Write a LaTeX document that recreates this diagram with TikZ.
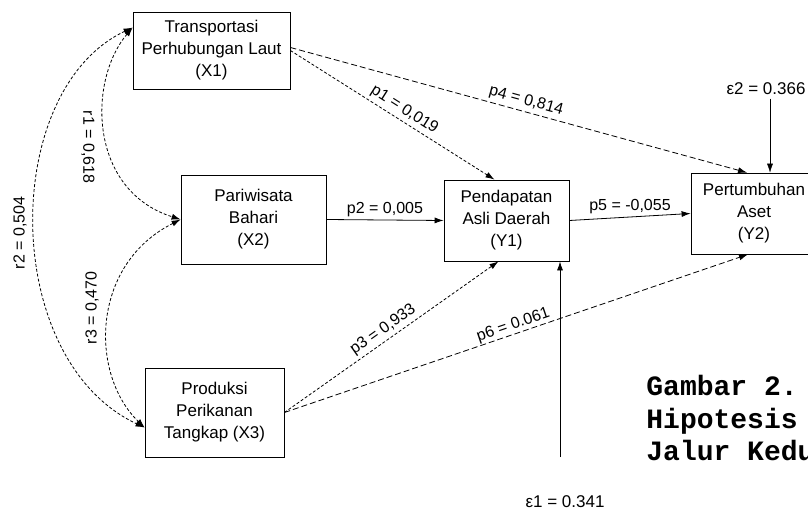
\documentclass[tikz,border=0pt]{standalone}
\usepackage{fontspec}
\setmainfont{Liberation Sans}
\newfontfamily\capfont{Liberation Mono}
\usetikzlibrary{arrows.meta,positioning}

\begin{document}
\begin{tikzpicture}[x=1pt,y=-1pt,>={Latex[length=9pt,width=6pt]},line width=0.8pt]
\tikzstyle{varbox}=[draw, rectangle, inner sep=0pt, align=center, font=\fontsize{17}{22}\selectfont]
\tikzstyle{coef}=[font=\fontsize{16}{18}\selectfont, inner sep=3pt]
\tikzstyle{fine}=[dash pattern=on 3pt off 2pt]
\tikzstyle{coarse}=[dash pattern=on 6pt off 3pt]
\tikzstyle{capline}=[anchor=base west, inner sep=0pt, font=\capfont\bfseries\fontsize{28}{32}\selectfont]
\useasboundingbox (0,0) rectangle (808,513);
\clip (0,0) rectangle (808,513);
% variables
\node [varbox, minimum width=157pt, minimum height=77pt] (X1) at (211.5,50.5) {Transportasi\\Perhubungan Laut\\(X1)};
\node [varbox, minimum width=145pt, minimum height=89pt] (X2) at (253.5,219.5) {Pariwisata\\Bahari\\(X2)};
\node [varbox, minimum width=139pt, minimum height=89pt] (X3) at (214.5,412.5) {Produksi\\Perikanan\\Tangkap (X3)};
\node [varbox, minimum width=125pt, minimum height=81pt] (Y1) at (506.5,220.5) {Pendapatan\\Asli Daerah\\(Y1)};
\node [varbox, minimum width=126pt, minimum height=81pt] (Y2) at (754,213.5) {Pertumbuhan\\Aset\\(Y2)};
% paths
\draw [->, fine] (X1.east) -- ([xshift=-12pt]Y1.north) node [coef, pos=0.53, above, sloped] {p1 = 0,019};
\draw [->] (X2.east) -- (Y1.west) node [coef, midway, above] {p2 = 0,005};
\draw [->, fine] (X3.east) -- ([xshift=-8pt]Y1.south) node [coef, pos=0.49, above, sloped] {p3 = 0,933};
\draw [->, coarse] ([yshift=3pt]X1.east) -- ([xshift=-7pt]Y2.north) node [coef, pos=0.51, above, sloped] {p4 = 0,814};
\draw [->] (Y1.east) -- (Y2.west) node [coef, midway, above] {p5 = -0,055};
\draw [->, coarse] (X3.east) -- ([xshift=-6pt]Y2.south) node [coef, pos=0.5, above, sloped, inner sep=1pt] {p6 = 0.061};
% correlations
\draw [<->, fine] ([yshift=-16pt]X1.north west) .. controls (88,80) and (88,190) .. (X2.west);
\draw [<->, fine] ([yshift=-16pt]X1.north west) .. controls (0,90) and (0,360) .. ([yshift=-15pt]X3.west);
\draw [<->, fine] (X2.west) .. controls (90,265) and (90,375) .. ([yshift=-15pt]X3.west);
\node [coef, rotate=-90] (r1) at (88,147) {r1 = 0,618};
\node [coef, rotate=90] (r2) at (20,233) {r2 = 0,504};
\node [coef, rotate=90] (r3) at (92,308) {r3 = 0,470};
% residuals
\node [font=\fontsize{17}{20}\selectfont] (e1) at (565,502) {ε1 = 0.341};
\coordinate (e1top) at (560,457);
\draw [->] (e1top) -- (e1top |- Y1.south);
\node [font=\fontsize{17}{20}\selectfont] (e2) at (766,89) {ε2 = 0.366};
\coordinate (e2end) at ([xshift=16pt]Y2.north);
\draw [->, thin] (e2.south -| e2end) -- (e2end);
% caption
\node [capline] (cap1) at (646,395) {Gambar 2.};
\node [capline] (cap2) at (646,428) {Hipotesis};
\node [capline] (cap3) at (646,460) {Jalur Kedua};
\end{tikzpicture}
\end{document}
